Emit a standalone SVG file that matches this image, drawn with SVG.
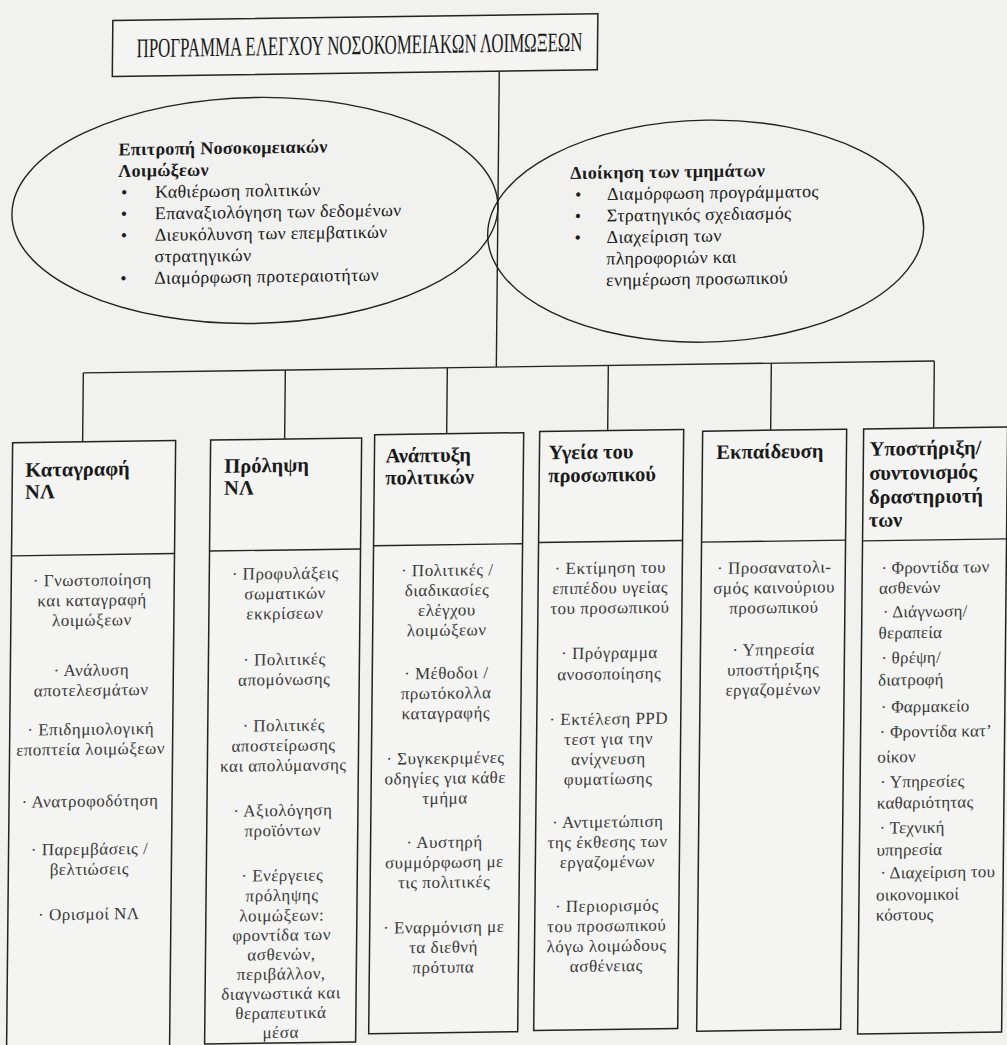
<svg xmlns="http://www.w3.org/2000/svg" width="1007" height="1045" viewBox="0 0 1007 1045">
<style>
.bg{fill:#f1f1ef}
.box{fill:#f4f4f2;stroke:#222;stroke-width:1.5}
.ell{fill:none;stroke:#222;stroke-width:1.4}
.ln{stroke:#222;stroke-width:1.4;fill:none}
.t{font-family:"Liberation Serif","Times New Roman",serif;fill:#1a1a1a}
.title{font-size:27px}
.eh{font-size:18px;font-weight:bold;letter-spacing:0.3px}
.et{font-size:18px;letter-spacing:0.3px}
.h{font-size:20.5px;font-weight:bold}
.b{font-size:17px;letter-spacing:0.5px;fill:#3a3a3a}
.b6{letter-spacing:0.2px}
.c{text-anchor:middle}
</style>
<rect class="bg" x="0" y="0" width="1007" height="1045"/>
<g transform="matrix(1 -0.014 -0.01 1 5 7)">
<g id="connectors">
<line class="ln" x1="495" y1="71" x2="495" y2="367"/>
<line class="ln" x1="82" y1="367" x2="933" y2="367"/>
<line class="ln" x1="82" y1="367" x2="82" y2="436"/>
<line class="ln" x1="284" y1="367" x2="284" y2="436"/>
<line class="ln" x1="446" y1="367" x2="446" y2="433"/>
<line class="ln" x1="607" y1="367" x2="607" y2="432"/>
<line class="ln" x1="770" y1="367" x2="770" y2="434"/>
<line class="ln" x1="933" y1="367" x2="933" y2="434"/>
</g>
<g id="title">
<rect class="box" x="108" y="15" width="485" height="56"/>
<text class="t title" x="132" y="52" textLength="446" lengthAdjust="spacingAndGlyphs">ΠΡΟΓΡΑΜΜΑ ΕΛΕΓΧΟΥ ΝΟΣΟΚΟΜΕΙΑΚΩΝ ΛΟΙΜΩΞΕΩΝ</text>
</g>
<g id="committee">
<ellipse class="ell" cx="252" cy="207" rx="243" ry="113"/>
<text class="t eh" x="115" y="150">Επιτροπή Νοσοκομειακών</text>
<text class="t eh" x="115" y="171.5">Λοιμώξεων</text>
<g class="t et">
<text x="118" y="193">•</text><text x="152" y="193">Καθιέρωση πολιτικών</text>
<text x="118" y="214.5">•</text><text x="152" y="214.5">Επαναξιολόγηση των δεδομένων</text>
<text x="118" y="236">•</text><text x="152" y="236">Διευκόλυνση των επεμβατικών</text>
<text x="152" y="257.5">στρατηγικών</text>
<text x="118" y="279">•</text><text x="152" y="279">Διαμόρφωση προτεραιοτήτων</text>
</g>
</g>
<g id="management">
<ellipse class="ell" cx="703" cy="234" rx="218" ry="111"/>
<text class="t eh" x="567" y="180">Διοίκηση των τμημάτων</text>
<g class="t et">
<text x="572" y="201.5">•</text><text x="604" y="201.5">Διαμόρφωση προγράμματος</text>
<text x="572" y="223">•</text><text x="604" y="223">Στρατηγικός σχεδιασμός</text>
<text x="572" y="244.5">•</text><text x="604" y="244.5">Διαχείριση των</text>
<text x="604" y="266">πληροφοριών και</text>
<text x="604" y="287.5">ενημέρωση προσωπικού</text>
</g>
</g>
<g id="col1">
<rect class="box" x="12" y="436" width="163" height="640"/>
<line class="ln" x1="12" y1="549" x2="175" y2="549"/>
<text class="t h" x="25" y="470">Καταγραφή</text>
<text class="t h" x="25" y="492">ΝΛ</text>
<g class="t b c">
<text x="93" y="580">· Γνωστοποίηση</text>
<text x="93" y="600">και καταγραφή</text>
<text x="93" y="620">λοιμώξεων</text>
<text x="93" y="670">· Ανάλυση</text>
<text x="93" y="690">αποτελεσμάτων</text>
<text x="93" y="729">· Επιδημιολογική</text>
<text x="93" y="749">εποπτεία λοιμώξεων</text>
<text x="93" y="801">· Ανατροφοδότηση</text>
<text x="93" y="849">· Παρεμβάσεις /</text>
<text x="93" y="869">βελτιώσεις</text>
<text x="93" y="914">· Ορισμοί ΝΛ</text>
</g>
</g>
<g id="col2">
<rect class="box" x="210" y="436" width="151" height="604"/>
<line class="ln" x1="210" y1="547" x2="361" y2="547"/>
<text class="t h" x="224" y="469">Πρόληψη</text>
<text class="t h" x="224" y="491">ΝΛ</text>
<g class="t b c">
<text x="286" y="576">· Προφυλάξεις</text>
<text x="286" y="596">σωματικών</text>
<text x="286" y="616">εκκρίσεων</text>
<text x="286" y="662">· Πολιτικές</text>
<text x="286" y="682">απομόνωσης</text>
<text x="286" y="728">· Πολιτικές</text>
<text x="286" y="748">αποστείρωσης</text>
<text x="286" y="768">και απολύμανσης</text>
<text x="286" y="813">· Αξιολόγηση</text>
<text x="286" y="833">προϊόντων</text>
<text x="286" y="878">· Ενέργειες</text>
<text x="286" y="898">πρόληψης</text>
<text x="286" y="918">λοιμώξεων:</text>
<text x="286" y="937.5">φροντίδα των</text>
<text x="286" y="957">ασθενών,</text>
<text x="286" y="976.5">περιβάλλον,</text>
<text x="286" y="996">διαγνωστικά και</text>
<text x="286" y="1015.5">θεραπευτικά</text>
<text x="286" y="1035">μέσα</text>
</g>
</g>
<g id="col3">
<rect class="box" x="374" y="433" width="149" height="599"/>
<line class="ln" x1="374" y1="544" x2="523" y2="544"/>
<text class="t h" x="385" y="461">Ανάπτυξη</text>
<text class="t h" x="385" y="483">πολιτικών</text>
<g class="t b c">
<text x="448" y="575">· Πολιτικές /</text>
<text x="448" y="595">διαδικασίες</text>
<text x="448" y="615">ελέγχου</text>
<text x="448" y="635">λοιμώξεων</text>
<text x="448" y="678">· Μέθοδοι /</text>
<text x="448" y="698">πρωτόκολλα</text>
<text x="448" y="718">καταγραφής</text>
<text x="448" y="763">· Συγκεκριμένες</text>
<text x="448" y="783">οδηγίες για κάθε</text>
<text x="448" y="803">τμήμα</text>
<text x="448" y="847">· Αυστηρή</text>
<text x="448" y="867">συμμόρφωση με</text>
<text x="448" y="887">τις πολιτικές</text>
<text x="448" y="932">· Εναρμόνιση με</text>
<text x="448" y="952">τα διεθνή</text>
<text x="448" y="972">πρότυπα</text>
</g>
</g>
<g id="col4">
<rect class="box" x="539" y="432" width="144" height="599"/>
<line class="ln" x1="539" y1="543" x2="683" y2="543"/>
<text class="t h" x="548" y="460">Υγεία του</text>
<text class="t h" x="548" y="483">προσωπικού</text>
<g class="t b c">
<text x="611" y="575">· Εκτίμηση του</text>
<text x="611" y="595">επιπέδου υγείας</text>
<text x="611" y="615">του προσωπικού</text>
<text x="611" y="660">· Πρόγραμμα</text>
<text x="611" y="681">ανοσοποίησης</text>
<text x="611" y="726">· Εκτέλεση PPD</text>
<text x="611" y="746">τεστ για την</text>
<text x="611" y="766">ανίχνευση</text>
<text x="611" y="786">φυματίωσης</text>
<text x="611" y="829">· Αντιμετώπιση</text>
<text x="611" y="849">της έκθεσης των</text>
<text x="611" y="869">εργαζομένων</text>
<text x="611" y="913">· Περιορισμός</text>
<text x="611" y="933">του προσωπικού</text>
<text x="611" y="953">λόγω λοιμώδους</text>
<text x="611" y="973">ασθένειας</text>
</g>
</g>
<g id="col5">
<rect class="box" x="702" y="434" width="144" height="600"/>
<line class="ln" x1="702" y1="545" x2="846" y2="545"/>
<text class="t h" x="716" y="462">Εκπαίδευση</text>
<g class="t b c">
<text x="775" y="577">· Προσανατολι-</text>
<text x="775" y="597">σμός καινούριου</text>
<text x="775" y="617">προσωπικού</text>
<text x="775" y="659">· Υπηρεσία</text>
<text x="775" y="679">υποστήριξης</text>
<text x="775" y="699">εργαζομένων</text>
</g>
</g>
<g id="col6">
<rect class="box" x="863" y="434" width="144" height="605"/>
<line class="ln" x1="863" y1="546" x2="1007" y2="546"/>
<text class="t h" x="869" y="461">Υποστήριξη/</text>
<text class="t h" x="869" y="485">συντονισμός</text>
<text class="t h" x="869" y="509">δραστηριοτή</text>
<text class="t h" x="869" y="532">των</text>
<g class="t b b6">
<text x="882" y="579">· Φροντίδα των</text>
<text x="880" y="599">ασθενών</text>
<text x="884" y="623">· Διάγνωση/</text>
<text x="880" y="644">θεραπεία</text>
<text x="883" y="669">· θρέψη/</text>
<text x="880" y="691">διατροφή</text>
<text x="883" y="718">· Φαρμακείο</text>
<text x="882" y="743">· Φροντίδα κατ’</text>
<text x="880" y="768">οίκον</text>
<text x="883" y="793">· Υπηρεσίες</text>
<text x="880" y="814">καθαριότητας</text>
<text x="883" y="839">· Τεχνική</text>
<text x="880" y="861">υπηρεσία</text>
<text x="884" y="884">· Διαχείριση του</text>
<text x="880" y="906">οικονομικοί</text>
<text x="880" y="926">κόστους</text>
</g>
</g>
</g>
</svg>
